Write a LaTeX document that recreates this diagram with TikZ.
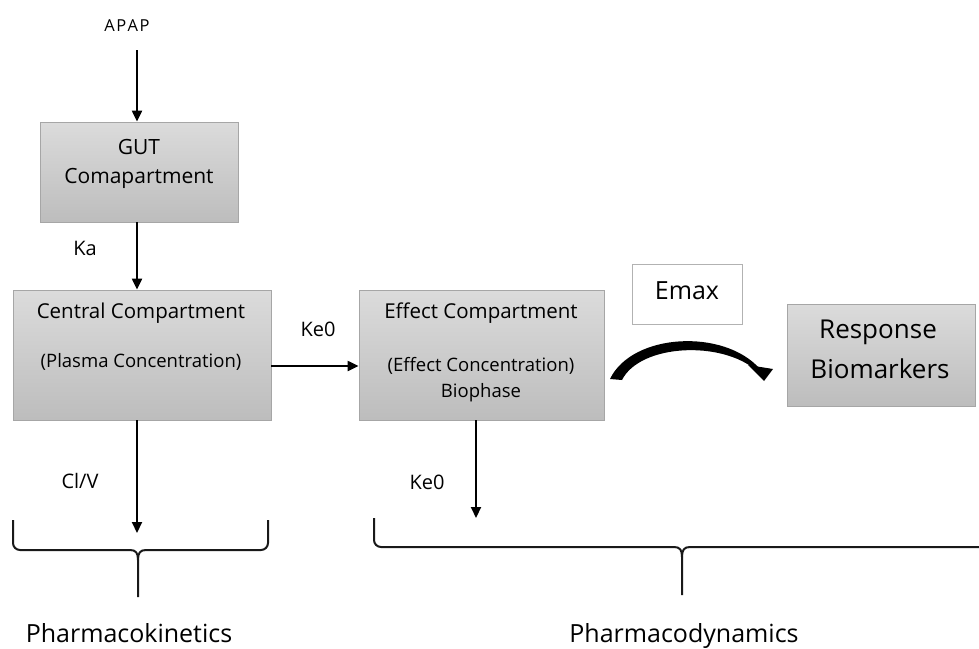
\documentclass[tikz,border=0pt]{standalone}
\usepackage{fontspec}
\setmainfont{Open Sans}
\usetikzlibrary{arrows.meta,shadows}
\begin{document}
\begin{tikzpicture}[x=1pt,y=-1pt,
  every node/.style={inner sep=0pt},
  comp/.style={draw=black!35, line width=0.8pt, top color=black!14, bottom color=black!26, inner sep=0pt},
  flow/.style={line width=2.1pt, -{Triangle[length=11pt,width=10pt]}},
  brace/.style={line width=2pt, line join=round, draw=black!90},
  lbl/.style={font=\fontsize{20}{24}\selectfont}]
\useasboundingbox (0,0) rectangle (979,648);

% compartments
\node[comp, minimum width=198pt, minimum height=100pt] (gut) at (139,172) {};
\node[comp, minimum width=258pt, minimum height=130pt] (central) at (142,355) {};
\node[comp, minimum width=245pt, minimum height=130pt] (effect) at (481.5,355) {};
\node[comp, minimum width=188pt, minimum height=102pt] (resp) at (881,355) {};
\node[draw=black!30, line width=0.8pt, fill=white, minimum width=110pt, minimum height=60pt,
      drop shadow={shadow xshift=0pt, shadow yshift=0pt, opacity=0.25, fill=black!40}] (emax) at (687,294) {};

% texts
\node[font=\fontsize{16.5}{18}\selectfont] (apap) at (127,26) {A\kern1.5pt P\kern1.5pt A\kern1.5pt P};
\node[font=\fontsize{21}{24}\selectfont] at (139,147) {GUT};
\node[font=\fontsize{21}{24}\selectfont] at (139,178) {Comapartment};
\node[font=\fontsize{20.5}{24}\selectfont] at (141,313) {Central Compartment};
\node[font=\fontsize{18.5}{22}\selectfont] at (141,362) {(Plasma Concentration)};
\node[font=\fontsize{20.5}{24}\selectfont] at (481,313) {Effect Compartment};
\node[font=\fontsize{18.5}{22}\selectfont] at (481,366) {(Effect Concentration)};
\node[font=\fontsize{18.5}{22}\selectfont] at (481,393) {Biophase};
\node[font=\fontsize{25}{28}\selectfont] at (687,291) {Emax};
\node[font=\fontsize{26}{30}\selectfont] at (878,332) {Response};
\node[font=\fontsize{26}{30}\selectfont] at (880,369) {Biomarkers};

% rate labels
\node[lbl] at (85,248) {Ka};
\node[lbl] at (318,329) {Ke0};
\node[lbl] at (80,481) {Cl/V};
\node[lbl] at (427,482) {Ke0};

% flows
\coordinate (dose) at (137,50);
\coordinate (clv) at (137,533);
\coordinate (keout) at (476,518);
\draw[flow] (dose) -- (gut.north -| dose);
\draw[flow] (gut.south -| dose) -- (central.north -| dose);
\draw[flow] (central.east |- 0,366) -- (effect.west |- 0,366);
\draw[flow] (central.south -| clv) -- (clv);
\draw[flow] (effect.south -| keout) -- (keout);

% curved Emax arrow (tapered stroke)
\coordinate (cs) at (610,379);
\coordinate (ce) at (760,369);
\fill (cs) .. controls (632,333) and (724,328) .. (ce)
      -- (757,371) .. controls (722,340) and (640,344) .. (622,380) -- cycle;
\fill (748,365) -- (773,369) -- (764,381) -- cycle;

% braces
\draw[brace] (13,520) -- (13,543) arc[start angle=180,end angle=90,radius=7] -- (130,550)
  .. controls (136,550) and (138,553) .. (138,560) -- (138,597);
\draw[brace] (268,520) -- (268,543) arc[start angle=0,end angle=90,radius=7] -- (146,550)
  .. controls (140,550) and (138,553) .. (138,560);
\draw[brace] (374,518) -- (374,540) arc[start angle=180,end angle=90,radius=7] -- (674,547)
  .. controls (680,547) and (682,550) .. (682,557) -- (682,595);
\draw[brace] (982,547) -- (690,547)
  .. controls (684,547) and (682,550) .. (682,557);

\node[font=\fontsize{25}{30}\selectfont, anchor=base] (pk) at (129,642) {Pharmacokinetics};
\node[font=\fontsize{25}{30}\selectfont, anchor=base] (pd) at (684,642) {Pharmacodynamics};
\end{tikzpicture}
\end{document}
